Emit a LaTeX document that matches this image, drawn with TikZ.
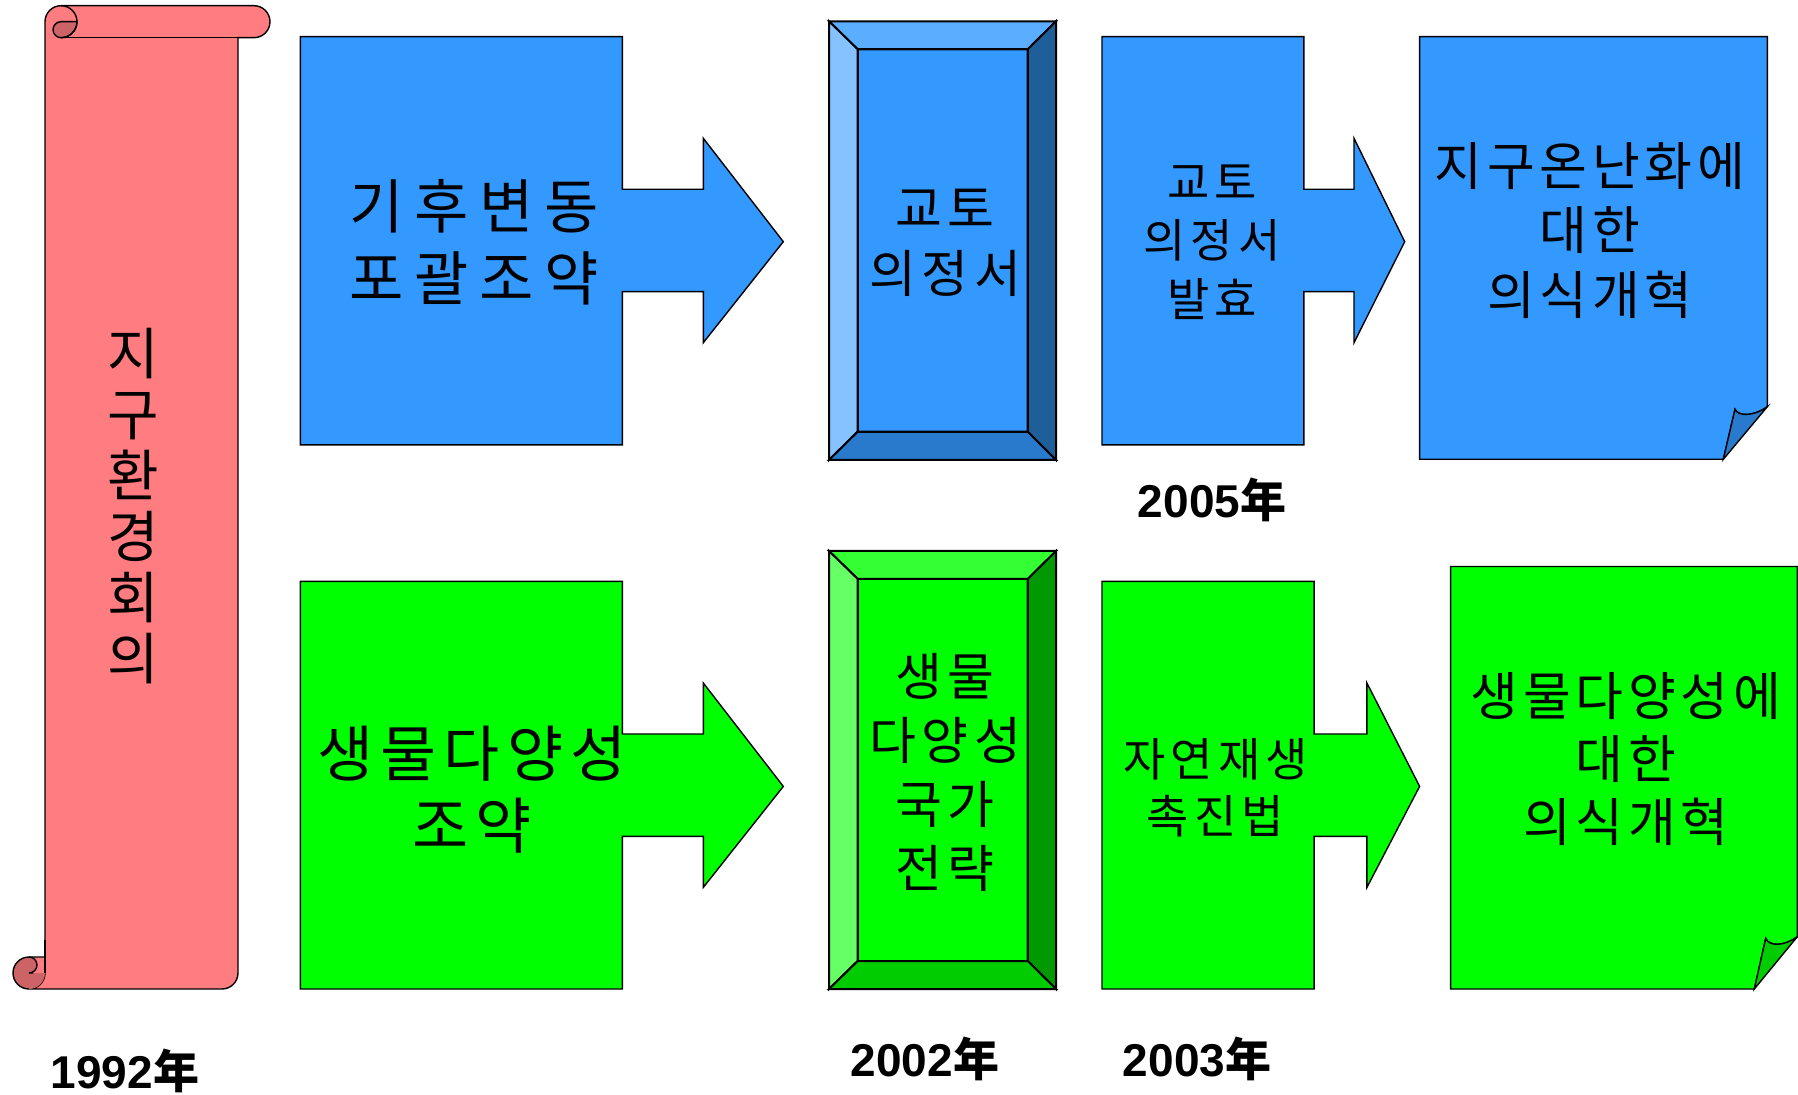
\documentclass[tikz,border=0pt]{standalone}
\usepackage{fontspec}
\setmainfont{Liberation Sans}
\newfontfamily\kr{Noto Sans CJK KR}
\definecolor{pinkS}{HTML}{FF7C80}
\definecolor{pinkD}{HTML}{CC6366}
\definecolor{bM}{HTML}{3399FF}
\definecolor{bT}{HTML}{5AADFF}
\definecolor{bL}{HTML}{85C2FF}
\definecolor{bR}{HTML}{1F5F99}
\definecolor{bB}{HTML}{297ACC}
\definecolor{gM}{HTML}{00FF00}
\definecolor{gT}{HTML}{33FF33}
\definecolor{gL}{HTML}{66FF66}
\definecolor{gR}{HTML}{009900}
\definecolor{gB}{HTML}{00CC00}
\tikzset{
  ol/.style={draw=black, line width=0.7pt},
  bvl/.style={draw=black, line width=1pt},
  ktext/.style n args={3}{inner sep=0pt, align=center, font=\kr\fontsize{#1}{#2}\selectfont\addfontfeature{LetterSpace=#3}},
  yeartext/.style={inner sep=0pt, font=\fontsize{23pt}{26pt}\selectfont\bfseries}
}
\begin{document}
\begin{tikzpicture}[x=0.5pt,y=-0.5pt,line join=miter]
\useasboundingbox (0,0) rectangle (1798,1095);

% ---------- scroll ----------
\path[fill=pinkS, ol] (45,21.7) arc[start angle=180,end angle=270,radius=16]
  -- (254,5.7) arc[start angle=270,end angle=450,radius=16]
  -- (238,37.7) -- (238,973) arc[start angle=0,end angle=90,radius=16]
  -- (29,989) arc[start angle=90,end angle=0,radius=16] -- cycle;
% top curl
\path[fill=pinkD, ol] (77,21.7) -- (61,21.7) arc[start angle=270,end angle=90,radius=8]
  arc[start angle=90,end angle=0,radius=16] -- cycle;
\draw[line width=0.7pt] (61,5.7) arc[start angle=270,end angle=450,radius=16];
\draw[line width=0.7pt] (61,37.7) -- (238,37.7);
% bottom curl
\fill[pinkD] (29,973) circle[radius=16];
\fill[pinkS] (29,957) -- (45,957) -- (45,973) -- (29,973) arc[start angle=90,end angle=-90,radius=8] -- cycle;
\draw[line width=0.7pt] (45,957) -- (29,957) arc[start angle=270,end angle=90,radius=16];
\draw[line width=0.7pt] (33,973) -- (29,973) arc[start angle=90,end angle=-90,radius=8];
\draw[line width=0.7pt] (45,940) -- (45,973);
\node[ktext={28pt}{30.5pt}{0}] (scrolltxt) at (133,506) {지\\구\\환\\경\\회\\의};

% ---------- blue row ----------
\path[fill=bM, ol] (300.4,36.7) -- (622.3,36.7) -- (622.3,189.3) -- (703.3,189.3) -- (703.3,138.3)
  -- (783.3,241.7) -- (703.3,342.7) -- (703.3,291.7) -- (622.3,291.7) -- (622.3,444.9)
  -- (300.4,444.9) -- cycle;
\node[ktext={29.5pt}{36pt}{18}] (t1) at (474,242.5) {기후변동\\포괄조약};

\fill[bM] (857.7,49.3) rectangle (1027.7,431.7);
\path[fill=bT, bvl] (829,21.3) -- (1056,21.3) -- (1027.7,49.3) -- (857.7,49.3) -- cycle;
\path[fill=bL, bvl] (829,21.3) -- (857.7,49.3) -- (857.7,431.7) -- (829,460) -- cycle;
\path[fill=bR, bvl] (1056,21.3) -- (1056,460) -- (1027.7,431.7) -- (1027.7,49.3) -- cycle;
\path[fill=bB, bvl] (829,460) -- (1056,460) -- (1027.7,431.7) -- (857.7,431.7) -- cycle;
\draw[bvl] (857.7,49.3) rectangle (1027.7,431.7);
\node[ktext={25.5pt}{32.5pt}{11}] (t2) at (945,242.5) {교토\\의정서};

\path[fill=bM, ol] (1102,36.7) -- (1303.8,36.7) -- (1303.8,189.3) -- (1354,189.3) -- (1354,138.3)
  -- (1404.7,241.7) -- (1354,342.7) -- (1354,291.7) -- (1303.8,291.7) -- (1303.8,444.9)
  -- (1102,444.9) -- cycle;
\node[ktext={23pt}{29.25pt}{11}] (t3) at (1212,242) {교토\\의정서\\발효};

\path[fill=bM, ol] (1419.6,36.7) -- (1767.3,36.7) -- (1767.3,406.7)
  .. controls (1755,416) and (1738,417) .. (1735,409.3) -- (1723.3,459.3) -- (1419.6,459.3) -- cycle;
\path[fill=bB, ol] (1723.3,459.3) -- (1735,409.3) .. controls (1738,417) and (1755,416) .. (1767.3,406.7) -- cycle;
\node[ktext={26pt}{32.25pt}{9}] (t4) at (1590,230.5) {지구온난화에\\대한\\의식개혁};

\node[yeartext] (y2005) at (1212,500) {2005{\kr\bfseries 年}};

% ---------- green row ----------
\path[fill=gM, ol] (300.4,581.4) -- (622.3,581.4) -- (622.3,734) -- (703.3,734) -- (703.3,683)
  -- (783.3,786.4) -- (703.3,887.4) -- (703.3,836.4) -- (622.3,836.4) -- (622.3,989)
  -- (300.4,989) -- cycle;
\node[ktext={30.5pt}{36pt}{12}] (g1) at (472,789.5) {생물다양성\\조약};

\fill[gM] (857.7,579) rectangle (1027.7,961);
\path[fill=gT, bvl] (829,551) -- (1056,551) -- (1027.7,579) -- (857.7,579) -- cycle;
\path[fill=gL, bvl] (829,551) -- (857.7,579) -- (857.7,961) -- (829,989) -- cycle;
\path[fill=gR, bvl] (1056,551) -- (1056,989) -- (1027.7,961) -- (1027.7,579) -- cycle;
\path[fill=gB, bvl] (829,989) -- (1056,989) -- (1027.7,961) -- (857.7,961) -- cycle;
\draw[bvl] (857.7,579) rectangle (1027.7,961);
\node[ktext={25.5pt}{32pt}{11}] (g2) at (945,772.8) {생물\\다양성\\국가\\전략};

\path[fill=gM, ol] (1102,581.4) -- (1314.1,581.4) -- (1314.1,734) -- (1366.9,734) -- (1366.9,683)
  -- (1419.6,786.4) -- (1366.9,887.4) -- (1366.9,836.4) -- (1314.1,836.4) -- (1314.1,989)
  -- (1102,989) -- cycle;
\node[ktext={23pt}{28.5pt}{11}] (g3) at (1215.5,787.7) {자연재생\\촉진법};

\path[fill=gM, ol] (1450.6,566.5) -- (1797.3,566.5) -- (1797.3,936.7)
  .. controls (1785,946) and (1769,947) .. (1765.7,938.3) -- (1754.3,989) -- (1450.6,989) -- cycle;
\path[fill=gB, ol] (1754.3,989) -- (1765.7,938.3) .. controls (1769,947) and (1785,946) .. (1797.3,936.7) -- cycle;
\node[ktext={26pt}{31.5pt}{9}] (g4) at (1626,759) {생물다양성에\\대한\\의식개혁};

\node[yeartext] (y2002) at (925,1059) {2002{\kr\bfseries 年}};
\node[yeartext] (y2003) at (1197,1059) {2003{\kr\bfseries 年}};
\node[yeartext] (y1992) at (125,1071) {1992{\kr\bfseries 年}};
\end{tikzpicture}
\end{document}
